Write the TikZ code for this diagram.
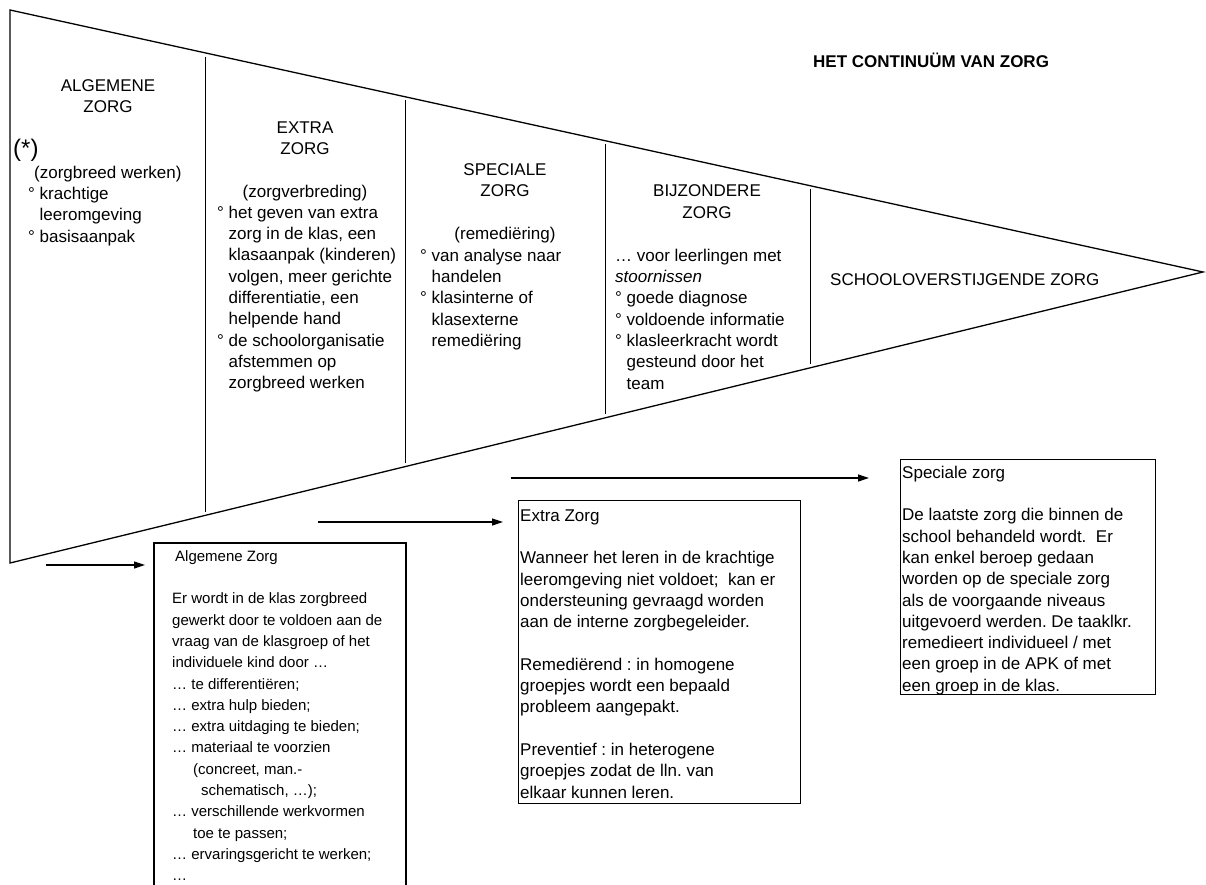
\documentclass[tikz,border=0pt]{standalone}
\usepackage{fontspec}
\setmainfont{Liberation Sans}
\usetikzlibrary{arrows.meta}
\newcommand{\hangi}{\hphantom{°\ }}
\frenchspacing
\begin{document}
\frenchspacing
\begin{tikzpicture}[x=1pt,y=-1pt,
  txt/.style={inner sep=0pt, anchor=north west, align=left, font=\fontsize{17}{21.3}\selectfont\frenchspacing},
  ttl/.style={inner sep=0pt, anchor=north, align=center, font=\fontsize{17}{21.3}\selectfont},
  small/.style={inner sep=0pt, anchor=north west, align=left, font=\fontsize{15}{21.3}\selectfont\frenchspacing},
  oneline/.style={inner sep=0pt, anchor=base west, font=\fontsize{17}{21.3}\selectfont},
  outline/.style={line width=1.3pt},
  divider/.style={line width=0.9pt},
  boxline/.style={line width=1.1pt},
  boxframe/.style={draw, line width=1.1pt, inner sep=0pt, anchor=north west},
  arr/.style={line width=1.2pt, -{Triangle[length=11pt,width=7pt]}}
]
\useasboundingbox (0,0) rectangle (1206,885);

% triangle (continuum)
\coordinate (tl) at (10,10);
\coordinate (apex) at (1203,272);
\coordinate (bl) at (10,563);
\draw[outline] (tl) -- (apex) -- (bl) -- cycle;

% dividers
\coordinate (d1t) at (205,57);  \coordinate (d1b) at (205,512);
\coordinate (d2t) at (405,100); \coordinate (d2b) at (405,463);
\coordinate (d3t) at (605,144); \coordinate (d3b) at (605,414);
\coordinate (d4t) at (810,189); \coordinate (d4b) at (810,364);
\draw[divider] (d1t) -- (d1b);
\draw[divider] (d2t) -- (d2b);
\draw[divider] (d3t) -- (d3b);
\draw[divider] (d4t) -- (d4b);

% main title
\node[oneline, font=\fontsize{17}{21.3}\selectfont\bfseries] (title) at (813,68) {HET CONTINUÜM VAN ZORG};

% column 1
\node[ttl] (t1) at (108,76.1) {\strut ALGEMENE\\ZORG};
\node[inner sep=0pt, anchor=base west, font=\fontsize{24}{28}\selectfont] (star) at (13,157) {(*)};
\node[txt] (b1) at (28,163.1) {\strut\hspace*{6pt}(zorgbreed werken)\\° krachtige\\\hangi leeromgeving\\° basisaanpak};

% column 2
\node[ttl] (t2) at (305,118.1) {\strut EXTRA\\ZORG\\\strut\\(zorgverbreding)};
\node[txt] (b2) at (217,203.1) {\strut° het geven van extra\\\hangi zorg in de klas, een\\\hangi klasaanpak (kinderen)\\\hangi volgen, meer gerichte\\\hangi differentiatie, een\\\hangi helpende hand\\° de schoolorganisatie\\\hangi afstemmen op\\\hangi zorgbreed werken};

% column 3
\node[ttl] (t3) at (505,160.1) {\strut SPECIALE\\ZORG\\\strut\\(remediëring)};
\node[txt] (b3) at (420,246.1) {\strut° van analyse naar\\\hangi handelen\\° klasinterne of\\\hangi klasexterne\\\hangi remediëring};

% column 4
\node[ttl] (t4) at (707,181.6) {\strut BIJZONDERE\\ZORG};
\node[txt] (b4) at (615,246.1) {\strut… voor leerlingen met\\\textit{stoornissen}\\° goede diagnose\\° voldoende informatie\\° klasleerkracht wordt\\\hangi gesteund door het\\\hangi team};

% column 5
\node[oneline] (t5) at (830,285) {SCHOOLOVERSTIJGENDE ZORG};

% box: Algemene Zorg (runs off the bottom)
\draw[boxline] (154,890) -- (154,543) -- (406,543) -- (406,890);
\node[small] (ta) at (172,546.1) {\strut\hspace*{3pt}Algemene Zorg\\\strut\\Er wordt in de klas zorgbreed\\gewerkt door te voldoen aan de\\vraag van de klasgroep of het\\individuele kind door …\\… te differentiëren;\\… extra hulp bieden;\\… extra uitdaging te bieden;\\… materiaal te voorzien\\\hspace*{21pt}(concreet, man.-\\\hspace*{29pt}schematisch, …);\\… verschillende werkvormen\\\hspace*{21pt}toe te passen;\\… ervaringsgericht te werken;\\…};

% box: Extra Zorg
\node[boxframe, minimum width=282pt, minimum height=303pt] (boxB) at (518,500) {};
\node[txt] (tb) at (520,506.1) {\strut Extra Zorg\\\strut\\Wanneer het leren in de krachtige\\leeromgeving niet voldoet;\ \ kan er\\ondersteuning gevraagd worden\\aan de interne zorgbegeleider.\\\strut\\Remediërend : in homogene\\groepjes wordt een bepaald\\probleem aangepakt.\\\strut\\Preventief : in heterogene\\groepjes zodat de lln. van\\elkaar kunnen leren.};

% box: Speciale zorg
\node[boxframe, minimum width=255pt, minimum height=235pt] (boxC) at (900,459) {};
\node[txt] (tc) at (902,463.1) {\strut Speciale zorg\\\strut\\De laatste zorg die binnen de\\school behandeld wordt.\ \ Er\\kan enkel beroep gedaan\\worden op de speciale zorg\\als de voorgaande niveaus\\uitgevoerd werden. De taaklkr.\\remedieert individueel / met\\een groep in de APK of met\\een groep in de klas.};

% arrows
\coordinate (a1s) at (46,565);  \coordinate (a1e) at (145,565);
\coordinate (a2s) at (318,522); \coordinate (a2e) at (503,522);
\coordinate (a3s) at (511,478); \coordinate (a3e) at (869,478);
\draw[arr] (a1s) -- (a1e);
\draw[arr] (a2s) -- (a2e);
\draw[arr] (a3s) -- (a3e);
\end{tikzpicture}
\end{document}
